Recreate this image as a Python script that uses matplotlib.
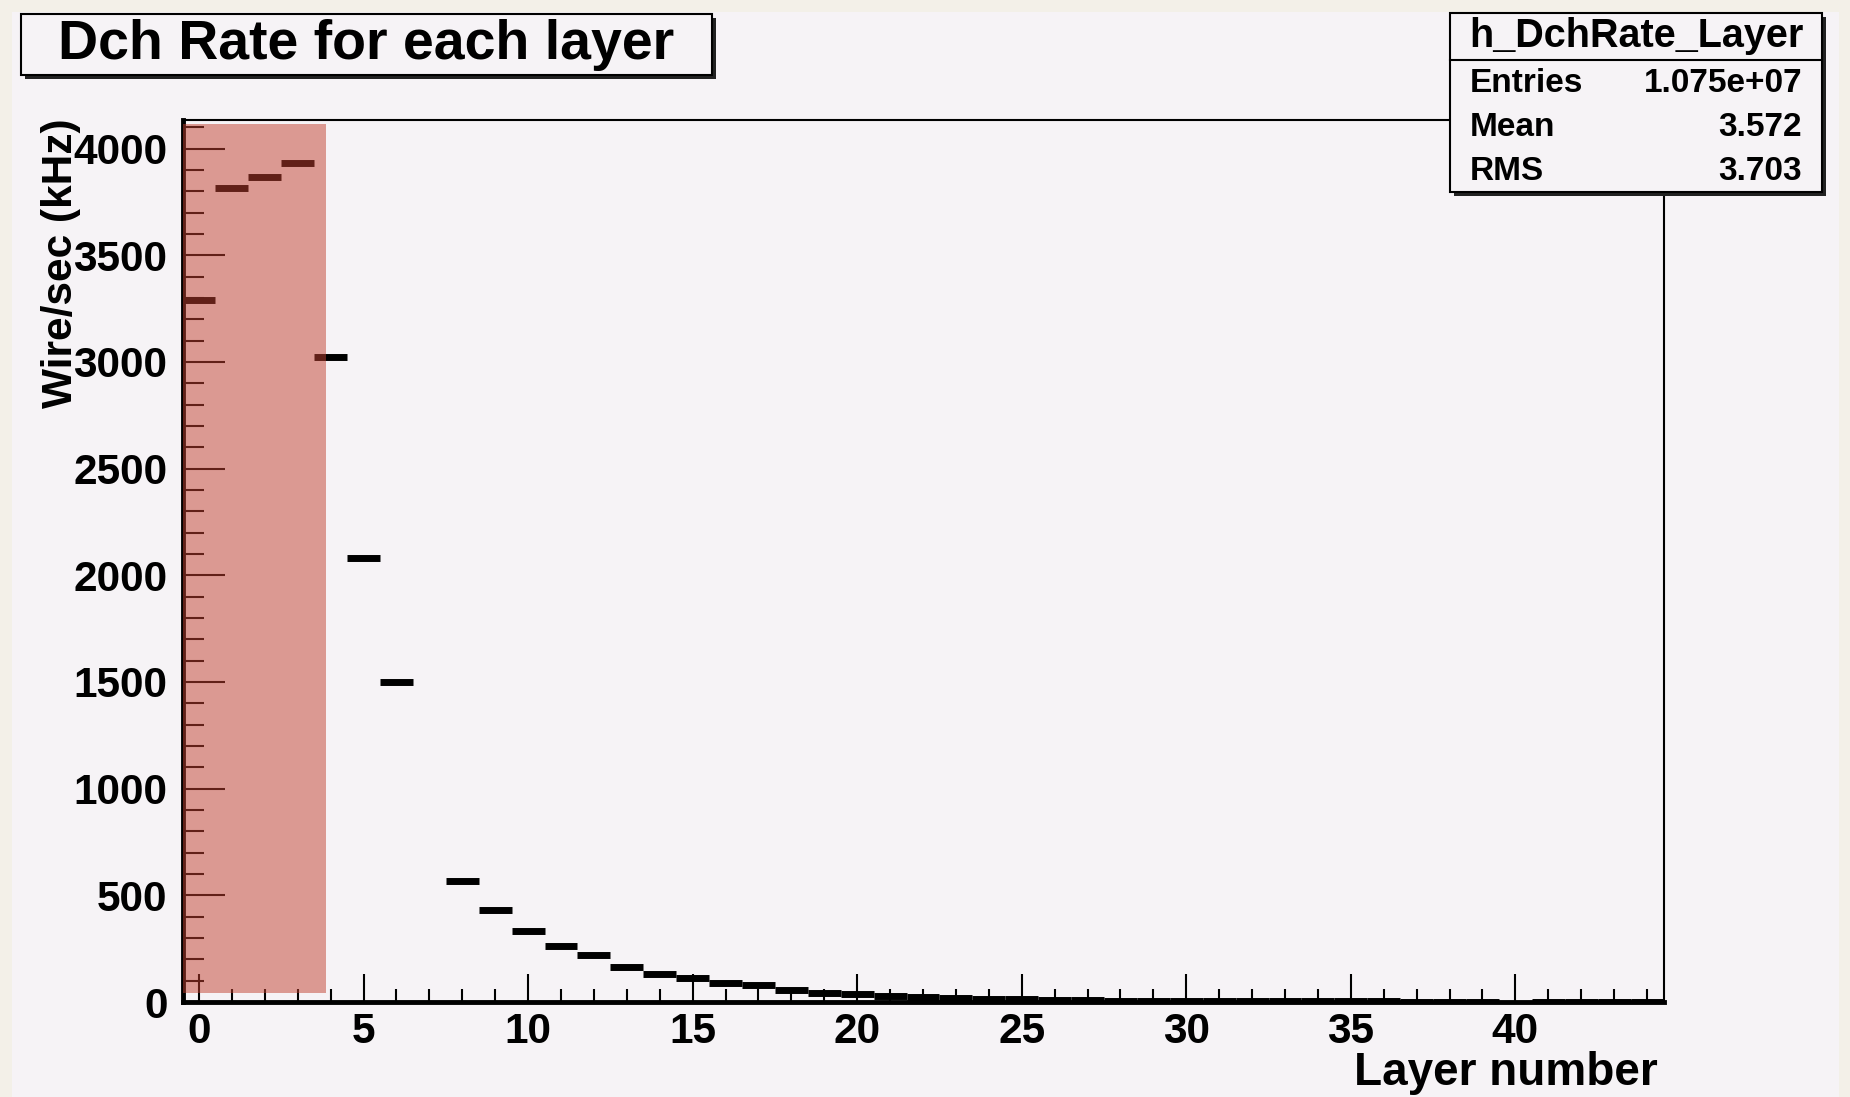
import matplotlib.pyplot as plt
import numpy as np
from matplotlib.patches import Rectangle
from matplotlib.ticker import MultipleLocator

plt.rcParams['font.family'] = ['Liberation Sans', 'DejaVu Sans']
plt.rcParams['font.weight'] = 'bold'

# Hit rate per wire for every drift chamber layer (kHz)
layers = np.arange(45)
rate_khz = [3290, 3813, 3867, 3934, 3023, 2080, 1499, 0, 565, 433,
            333, 264, 220, 165, 131, 111, 88, 78, 55, 43,
            36, 30, 24, 18, 15, 12, 9, 8, 7, 6,
            5, 5, 4, 4, 3, 3, 3, 2, 2, 2,
            0, 2, 1, 1, 1]

x_ticks = [0, 5, 10, 15, 20, 25, 30, 35, 40]
y_ticks = [0, 500, 1000, 1500, 2000, 2500, 3000, 3500, 4000]

stat_names = ['Entries', 'Mean', 'RMS']
stat_values = ['1.075e+07', '3.572', '3.703']

# inner layers marked by hand
band_x = (-0.5, 3.86)
band_y = (41, 4116)

canvas = '#F6F3F6'
W, H = 1850, 1097
fig = plt.figure(figsize=(W / 100, H / 100), dpi=100, facecolor='#F3F0E8')
fig.add_artist(Rectangle((12 / W, 0), (1839 - 12) / W, 1 - 12 / H,
                         transform=fig.transFigure, facecolor=canvas,
                         edgecolor='none', zorder=-5))

ax = fig.add_axes([182.5 / W, 1 - 1002 / H, (1663.5 - 182.5) / W, (1002 - 120) / H])
ax.set_facecolor(canvas)

rate = np.array(rate_khz, dtype=float)
filled = rate > 0
lc = ax.hlines(rate[filled], layers[filled] - 0.5, layers[filled] + 0.5,
               colors='black', linewidth=5)
lc.set_capstyle('butt')

ax.add_patch(Rectangle((band_x[0], band_y[0]), band_x[1] - band_x[0], band_y[1] - band_y[0],
                       facecolor='#C24130', alpha=0.5, edgecolor='none', zorder=5))

ax.set_xlim(-0.5, 44.5)
ax.set_ylim(0, 4134)
ax.set_xticks(x_ticks, [str(v) for v in x_ticks])
ax.set_yticks(y_ticks, [str(v) for v in y_ticks])
ax.xaxis.set_minor_locator(MultipleLocator(1))
ax.yaxis.set_minor_locator(MultipleLocator(100))

ax.tick_params(axis='both', which='both', direction='in', top=False, right=False,
               width=1.5, labelsize=30.5)
ax.tick_params(axis='x', which='major', length=20, pad=7)
ax.tick_params(axis='x', which='minor', length=9.5)
ax.tick_params(axis='y', which='major', length=30, pad=10.8)
ax.tick_params(axis='y', which='minor', length=15)

for side in ['left', 'bottom']:
    ax.spines[side].set_linewidth(3.5)
for side in ['top', 'right']:
    ax.spines[side].set_linewidth(1.5)

# overlay in pixel coordinates for titles and boxes
ov = fig.add_axes([0, 0, 1, 1], zorder=10)
ov.set_xlim(0, W)
ov.set_ylim(H, 0)
ov.axis('off')

ov.add_patch(Rectangle((25, 18), 691, 61, facecolor='#222222', edgecolor='none'))
ov.add_patch(Rectangle((21, 14), 691, 61, facecolor=canvas, edgecolor='black', linewidth=1.5))
ov.text(366, 45, 'Dch Rate for each layer', ha='center', va='center', fontsize=40)

ov.add_patch(Rectangle((1454, 17), 372, 179, facecolor='#222222', edgecolor='none'))
ov.add_patch(Rectangle((1450, 13), 372, 179, facecolor=canvas, edgecolor='black', linewidth=1.5))
ov.plot([1450, 1822], [60, 60], color='black', linewidth=1.5)
ov.text(1636, 36, 'h_DchRate_Layer', ha='center', va='center', fontsize=28.5)
for i, (name, val) in enumerate(zip(stat_names, stat_values)):
    y = 83 + 44 * i
    ov.text(1470, y, name, ha='left', va='center', fontsize=24)
    ov.text(1802, y, val, ha='right', va='center', fontsize=24)

ov.text(61, 118, 'Wire/sec (kHz)', rotation=90, ha='center', va='top', fontsize=30.5)
ov.text(1658, 1085, 'Layer number', ha='right', va='baseline', fontsize=33)

fig.savefig('out.png', dpi=100, facecolor=fig.get_facecolor())
